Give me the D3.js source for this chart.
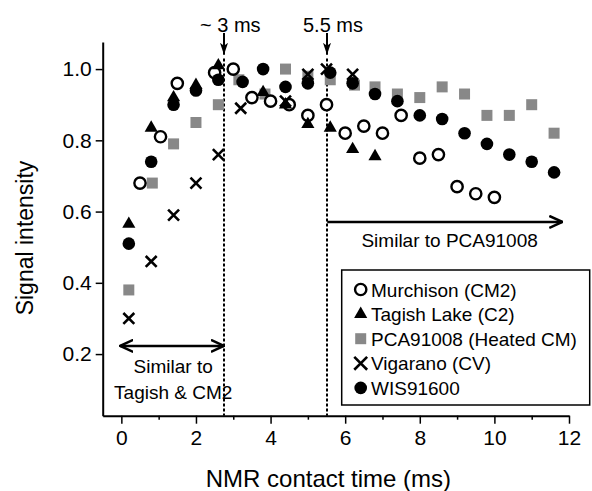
<!DOCTYPE html>
<html>
<head>
<meta charset="utf-8">
<script src="https://cdn.jsdelivr.net/npm/d3@7"></script>
<style>
  body { margin: 0; background: #fff; }
  text { font-family: "Liberation Sans", Arial, sans-serif; fill: #000; }
</style>
</head>
<body>
<div id="chart"></div>
<script>
// contact times (ms) and signal intensities per sample
let murchisonX = [0.5, 1.05, 1.5, 2.5, 3.0, 3.5, 4.0, 4.5, 5.0, 5.5, 6.0, 6.5, 7.0, 7.5, 8.0, 8.5, 9.0, 9.5, 10.0];
let murchisonY = [0.68, 0.81, 0.96, 0.99, 1.0, 0.92, 0.91, 0.90, 0.87, 0.90, 0.82, 0.84, 0.82, 0.87, 0.75, 0.76, 0.67, 0.65, 0.64];

let tagishX = [0.2, 0.8, 1.4, 2.0, 2.6, 3.8, 4.4, 5.0, 5.6, 6.2, 6.8];
let tagishY = [0.565, 0.835, 0.92, 0.955, 1.01, 0.935, 0.90, 0.845, 0.835, 0.775, 0.755];

let pcaX = [0.2, 0.83, 1.4, 2.0, 2.6, 3.15, 3.85, 4.4, 5.0, 5.6, 6.25, 6.8, 7.4, 8.0, 8.6, 9.2, 9.8, 10.4, 11.0, 11.6];
let pcaY = [0.38, 0.68, 0.79, 0.85, 0.90, 0.97, 0.93, 1.0, 0.98, 0.97, 0.955, 0.95, 0.93, 0.92, 0.95, 0.93, 0.87, 0.87, 0.90, 0.82];

let vigaranoX = [0.2, 0.8, 1.4, 2.0, 2.6, 3.2, 4.4, 5.0, 5.5, 6.2];
let vigaranoY = [0.30, 0.46, 0.59, 0.68, 0.76, 0.89, 0.91, 0.985, 1.0, 0.985];

let wisX = [0.2, 0.8, 1.4, 2.0, 2.6, 3.25, 3.8, 4.4, 5.0, 5.6, 6.2, 6.8, 7.4, 8.0, 8.6, 9.2, 9.8, 10.4, 11.0, 11.6];
let wisY = [0.51, 0.74, 0.90, 0.94, 0.97, 0.964, 1.0, 0.95, 0.96, 0.99, 0.96, 0.93, 0.91, 0.87, 0.86, 0.82, 0.79, 0.76, 0.74, 0.71];

let seriesNames = ["Murchison (CM2)", "Tagish Lake (C2)", "PCA91008 (Heated CM)", "Vigarano (CV)", "WIS91600"];
let xTicks = [0, 2, 4, 6, 8, 10, 12];
let xMinorTicks = [1, 3, 5, 7, 9, 11];
let yTicks = [0.2, 0.4, 0.6, 0.8, 1.0];

let width = 592,
    height = 491,
    margin = {top: 42, left: 102.7, right: 23, bottom: 75.3},
    visWidth = width - margin.left - margin.right,
    visHeight = height - margin.top - margin.bottom;

let svg = d3.select("#chart").append("svg")
    .attr("width", width)
    .attr("height", height);

let defs = svg.append("defs");
// open chevron head for the range arrows
defs.append("marker")
    .attr("id", "head")
    .attr("viewBox", "0 0 14 14")
    .attr("refX", 13).attr("refY", 7)
    .attr("markerWidth", 14).attr("markerHeight", 14)
    .attr("markerUnits", "userSpaceOnUse")
    .attr("orient", "auto-start-reverse")
    .append("path")
    .attr("d", "M0,1 L13,7 L0,13")
    .attr("fill", "none")
    .attr("stroke", "#000")
    .attr("stroke-width", 2.5);
// filled narrow head for the time marks
defs.append("marker")
    .attr("id", "solid")
    .attr("viewBox", "0 0 12 8")
    .attr("refX", 12).attr("refY", 4)
    .attr("markerWidth", 12).attr("markerHeight", 8)
    .attr("markerUnits", "userSpaceOnUse")
    .attr("orient", "auto")
    .append("path")
    .attr("d", "M0,0 L12,4 L0,8 L3,4 Z")
    .attr("fill", "#000");

let xScale = d3.scaleLinear().domain([-0.5, 12]).range([0, visWidth]);
let yScale = d3.scaleLinear().domain([0.027, 1.076]).range([visHeight, 0]);

let chart = svg.append("g")
    .attr("transform", "translate(" + margin.left + "," + margin.top + ")");

// axes
let xAxis = chart.append("g")
    .attr("transform", "translate(0," + visHeight + ")")
    .call(d3.axisBottom(xScale).tickValues(xTicks).tickSize(8).tickSizeOuter(0).tickPadding(6).tickFormat(d3.format("d")));
chart.append("g")
    .attr("transform", "translate(0," + visHeight + ")")
    .call(d3.axisBottom(xScale).tickValues(xMinorTicks).tickSize(4).tickFormat(""))
    .call(g => g.select(".domain").remove());
let yAxis = chart.append("g")
    .call(d3.axisLeft(yScale).tickValues(yTicks).tickSize(7).tickSizeOuter(0).tickPadding(4).tickFormat(d3.format(".1f")));

svg.selectAll(".domain").attr("stroke-width", 2).attr("stroke", "#000");
svg.selectAll(".tick line").attr("stroke-width", 1.5).attr("stroke", "#000");
svg.selectAll(".tick text").attr("font-size", 21).attr("font-family", "Liberation Sans, Arial, sans-serif").attr("fill", "#000");
xAxis.selectAll(".tick text").attr("dy", "0.75em");

// axis titles
svg.append("text")
    .attr("x", margin.left + xScale(5.55))
    .attr("y", 487)
    .attr("text-anchor", "middle")
    .attr("font-size", 24)
    .text("NMR contact time (ms)");
svg.append("text")
    .attr("transform", "translate(33,238) rotate(-90)")
    .attr("text-anchor", "middle")
    .attr("font-size", 23)
    .text("Signal intensity");

// dashed lines with arrows
let marks = [{t: 2.75, label: "~ 3 ms"}, {t: 5.52, label: "5.5 ms"}];
marks.forEach(function(m) {
    // snap to whole pixels so the dashes stay crisp
    let px = Math.round(margin.left + xScale(m.t)) - margin.left;
    chart.append("line")
        .attr("x1", px).attr("x2", px)
        .attr("y1", yScale(1.03)).attr("y2", visHeight)
        .attr("stroke", "#000").attr("stroke-width", 2)
        .attr("stroke-dasharray", "3,2");
    chart.append("line")
        .attr("x1", px).attr("x2", px)
        .attr("y1", -9).attr("y2", yScale(1.04))
        .attr("stroke", "#000").attr("stroke-width", 2)
        .attr("marker-end", "url(#solid)");
    chart.append("text")
        .attr("x", px - 24)
        .attr("y", -10)
        .attr("font-size", 20)
        .text(m.label);
});

// range arrows
chart.append("line")
    .attr("x1", xScale(5.52)).attr("x2", xScale(11.82))
    .attr("y1", yScale(0.571)).attr("y2", yScale(0.571))
    .attr("stroke", "#000").attr("stroke-width", 2.5)
    .attr("marker-end", "url(#head)");
chart.append("text")
    .attr("x", xScale(8.8)).attr("y", yScale(0.571) + 25)
    .attr("text-anchor", "middle").attr("font-size", 19)
    .text("Similar to PCA91008");

chart.append("line")
    .attr("x1", xScale(-0.03)).attr("x2", xScale(2.75))
    .attr("y1", yScale(0.223)).attr("y2", yScale(0.223))
    .attr("stroke", "#000").attr("stroke-width", 2.5)
    .attr("marker-start", "url(#head)")
    .attr("marker-end", "url(#head)");
chart.append("text")
    .attr("x", xScale(1.39)).attr("y", yScale(0.223) + 27.5)
    .attr("text-anchor", "middle").attr("font-size", 19)
    .text("Similar to");
chart.append("text")
    .attr("x", xScale(1.39)).attr("y", yScale(0.223) + 53)
    .attr("text-anchor", "middle").attr("font-size", 19)
    .text("Tagish & CM2");

// symbols
let symX = d3.symbolTimes || d3.symbolX;
let styles = [
    {type: d3.symbolCircle, size: 100, fill: "#fff", stroke: "#000", sw: 2.4},
    {type: d3.symbolTriangle, size: 75, fill: "#000", stroke: "none", sw: 0},
    {type: d3.symbolSquare, size: 121, fill: "#888888", stroke: "none", sw: 0},
    {type: symX, size: 80, fill: "none", stroke: "#000", sw: 2.6},
    {type: d3.symbolCircle, size: 125, fill: "#000", stroke: "none", sw: 0}
];
let seriesData = [
    d3.zip(murchisonX, murchisonY),
    d3.zip(tagishX, tagishY),
    d3.zip(pcaX, pcaY),
    d3.zip(vigaranoX, vigaranoY),
    d3.zip(wisX, wisY)
];
let drawOrder = [2, 0, 4, 1, 3];

drawOrder.forEach(function(i) {
    let s = styles[i];
    chart.selectAll(".pt" + i)
        .data(seriesData[i])
        .enter().append("path")
        .attr("class", "pt" + i)
        .attr("transform", function(d) { return "translate(" + xScale(d[0]) + "," + yScale(d[1]) + ")"; })
        .attr("d", d3.symbol().type(s.type).size(s.size))
        .attr("fill", s.fill)
        .attr("stroke", s.stroke)
        .attr("stroke-width", s.sw);
});

// legend
let legend = svg.append("g");
legend.append("rect")
    .attr("x", 341.7).attr("y", 270)
    .attr("width", 248).attr("height", 135)
    .attr("fill", "#fff").attr("stroke", "#000").attr("stroke-width", 1.5);
seriesNames.forEach(function(name, i) {
    let s = styles[i];
    let by = 296.5 + i * 24.6;
    legend.append("path")
        .attr("transform", "translate(360.7," + (by - 7) + ")")
        .attr("d", d3.symbol().type(s.type).size(i == 3 ? 110 : s.size))
        .attr("fill", s.fill)
        .attr("stroke", s.stroke)
        .attr("stroke-width", s.sw);
    legend.append("text")
        .attr("x", 371).attr("y", by)
        .attr("font-size", 19)
        .text(name);
});
</script>
</body>
</html>
